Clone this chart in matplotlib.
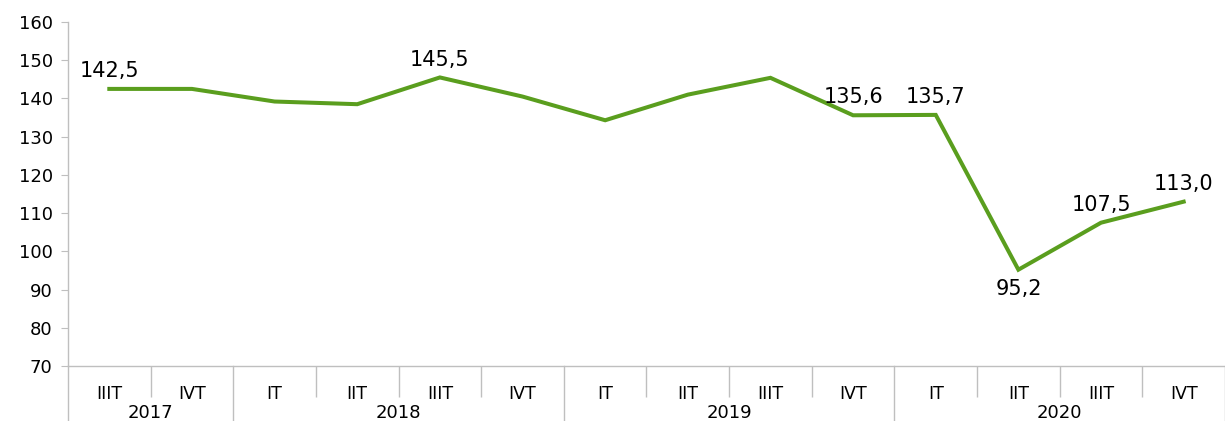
import matplotlib.pyplot as plt
import matplotlib.transforms as mtransforms

plt.rcParams['font.family'] = ['DejaVu Sans']

quarters = ['IIIТ', 'IVТ', 'IТ', 'IIТ', 'IIIТ', 'IVТ', 'IТ', 'IIТ', 'IIIТ', 'IVТ',
            'IТ', 'IIТ', 'IIIТ', 'IVТ']
years = ['2017', '2018', '2019', '2020']
year_sizes = [2, 4, 4, 4]
values = [142.5, 142.5, 139.2, 138.5, 145.5, 140.5, 134.3, 141.0, 145.4, 135.6,
          135.7, 95.2, 107.5, 113.0]
labelled = {0: 'above', 4: 'above', 9: 'above', 10: 'above', 11: 'below', 12: 'above', 13: 'above'}

GRAY = '#bfbfbf'
GREEN = '#5a9e1e'

fig = plt.figure(figsize=(12.25, 4.21), dpi=100)
ax = fig.add_axes([0.0555, 0.1306, 0.9445, 0.8171])

x = list(range(len(values)))
ax.plot(x, values, color=GREEN, lw=2.9, solid_joinstyle='miter')

for i, pos in labelled.items():
    txt = f'{values[i]:.1f}'.replace('.', ',')
    if pos == 'above':
        ax.annotate(txt, (i, values[i]), xytext=(0, 8.5), textcoords='offset points',
                    ha='center', va='baseline', fontsize=15)
    else:
        ax.annotate(txt, (i, values[i]), xytext=(0, -7), textcoords='offset points',
                    ha='center', va='top', fontsize=15)

ax.set_xlim(-0.5, len(values) - 0.5)
ax.set_ylim(70, 160)
ax.set_yticks(range(70, 161, 10))
ax.tick_params(axis='y', labelsize=13, length=5, color=GRAY, pad=6)

ax.set_xticks(x)
ax.set_xticklabels(quarters, fontsize=12.5)
ax.tick_params(axis='x', which='major', length=0, pad=14)

# separators between quarters (short) and years (long)
bounds = []
acc = 0
for n in year_sizes:
    bounds.append(acc - 0.5)
    acc += n
bounds.append(acc - 0.5)
inner = [b + 0.5 for b in range(-1, len(values))]
inner = [b for b in inner if b not in bounds]
ax.set_xticks(inner, minor=True)
ax.tick_params(axis='x', which='minor', length=22, width=1, color=GRAY)

trans = mtransforms.blended_transform_factory(ax.transData, ax.transAxes)
for b in bounds:
    ax.plot([b, b], [0, -0.185], transform=trans, color=GRAY, lw=1, clip_on=False)

start = 0
for yr, n in zip(years, year_sizes):
    ax.annotate(yr, (start + (n - 1) / 2, 0), xycoords=trans, xytext=(0, -33.5),
                textcoords='offset points', ha='center', va='center', fontsize=13)
    start += n

for s in ['top', 'right']:
    ax.spines[s].set_visible(False)
for s in ['left', 'bottom']:
    ax.spines[s].set_color(GRAY)
    ax.spines[s].set_linewidth(1)

fig.savefig('out.png', dpi=100)
